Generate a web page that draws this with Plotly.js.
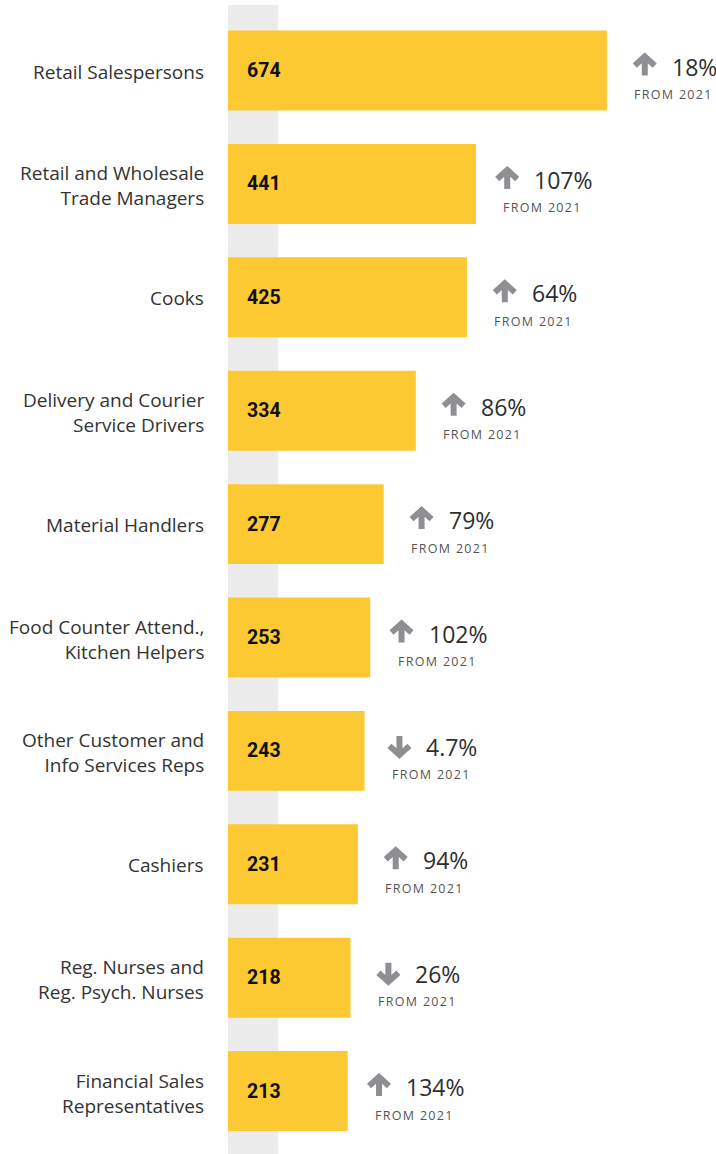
<!DOCTYPE html>
<html>
<head>
<meta charset="utf-8">
<script src="https://cdn.plot.ly/plotly-3.0.1.min.js"></script>
<style>html,body{margin:0;padding:0;background:#fff}#chart{width:716px;height:1154px}</style>
</head>
<body>
<div id="chart"></div>
<script>
const categories = ["Retail Salespersons", "Retail and Wholesale<br>Trade Managers", "Cooks",
  "Delivery and Courier<br>Service Drivers", "Material Handlers", "Food Counter Attend.,<br>Kitchen Helpers",
  "Other Customer and<br>Info Services Reps", "Cashiers", "Reg. Nurses and<br>Reg. Psych. Nurses",
  "Financial Sales<br>Representatives"];
const values = [674, 441, 425, 334, 277, 253, 243, 231, 218, 213];
const changes = ["18%", "107%", "64%", "86%", "79%", "102%", "4.7%", "94%", "26%", "134%"];
const directions = ["up", "up", "up", "up", "up", "up", "down", "up", "down", "up"];
const changeNote = "FROM 2021";

const idx = values.map((v, i) => i);
const pctFont = "Open Sans";
const pctSize = 23;

const canvas = document.createElement("canvas");
const ctx = canvas.getContext("2d");
ctx.font = pctSize + "px '" + pctFont + "'";

const annotations = [];
const shapes = [{
  type: "rect", xref: "x", yref: "paper", x0: 0, x1: 89, y0: 0, y1: 1,
  fillcolor: "#ececec", line: {width: 0}, layer: "below"
}];

const arrowW = 24, gap = 13, groupCenter = 67, pctLift = 4;
values.forEach((v, i) => {
  const twoLine = categories[i].indexOf("<br>") >= 0;
  annotations.push({
    xref: "paper", yref: "y", x: 0, y: i, xanchor: "right", yanchor: "middle",
    xshift: -22, yshift: twoLine ? -2 : -1, align: "right", showarrow: false, text: categories[i],
    font: {family: "Open Sans", size: 19, color: "#333"}
  });
  annotations.push({
    xref: "x", yref: "y", x: 0, y: i, xanchor: "left", yanchor: "middle",
    xshift: 17, showarrow: false, text: "<b>" + v + "</b>",
    font: {family: "Roboto", size: 19.5, color: "#111"}
  });
  const tw = ctx.measureText(changes[i]).width;
  const total = arrowW + gap + tw;
  const left = groupCenter - total / 2;
  annotations.push({
    xref: "x", yref: "y", x: v, y: i, xanchor: "left", yanchor: "middle",
    xshift: left + arrowW + gap, yshift: pctLift, showarrow: false, text: changes[i],
    font: {family: pctFont, size: pctSize, color: "#2e2e2e"}
  });
  annotations.push({
    xref: "x", yref: "y", x: v, y: i, xanchor: "center", yanchor: "middle",
    xshift: groupCenter, yshift: -24, showarrow: false,
    text: "<span style='letter-spacing:1.3px'>" + changeNote + "</span>",
    font: {family: "Open Sans", size: 12.5, color: "#555"}
  });
  const cx = left + arrowW / 2;
  const cy = pctLift + 1;
  let p;
  if (directions[i] === "up") {
    p = `M ${cx - 10} ${cy} L ${cx} ${cy + 9} L ${cx + 10} ${cy} M ${cx} ${cy + 8} L ${cx} ${cy - 10}`;
  } else {
    p = `M ${cx - 10} ${cy} L ${cx} ${cy - 9} L ${cx + 10} ${cy} M ${cx} ${cy - 8} L ${cx} ${cy + 10}`;
  }
  shapes.push({
    type: "path", xref: "x", yref: "y", xsizemode: "pixel", ysizemode: "pixel",
    xanchor: v, yanchor: i, path: p, line: {color: "#8e8e93", width: 6}
  });
});

const trace = {
  type: "bar", orientation: "h", x: values, y: idx, width: 0.705,
  marker: {color: "#fcc932", line: {width: 0}}, hoverinfo: "none", textposition: "none"
};

const layout = {
  width: 716, height: 1154,
  margin: {l: 228, r: 0, t: 5, b: 0},
  paper_bgcolor: "#fff", plot_bgcolor: "rgba(0,0,0,0)",
  showlegend: false,
  xaxis: {range: [0, 868], showgrid: false, zeroline: false, showticklabels: false, fixedrange: true},
  yaxis: {range: [9.555, -0.578], showgrid: false, zeroline: false, showticklabels: false, fixedrange: true},
  annotations: annotations,
  shapes: shapes
};

Plotly.newPlot("chart", [trace], layout, {displayModeBar: false, staticPlot: true});
</script>
</body>
</html>
